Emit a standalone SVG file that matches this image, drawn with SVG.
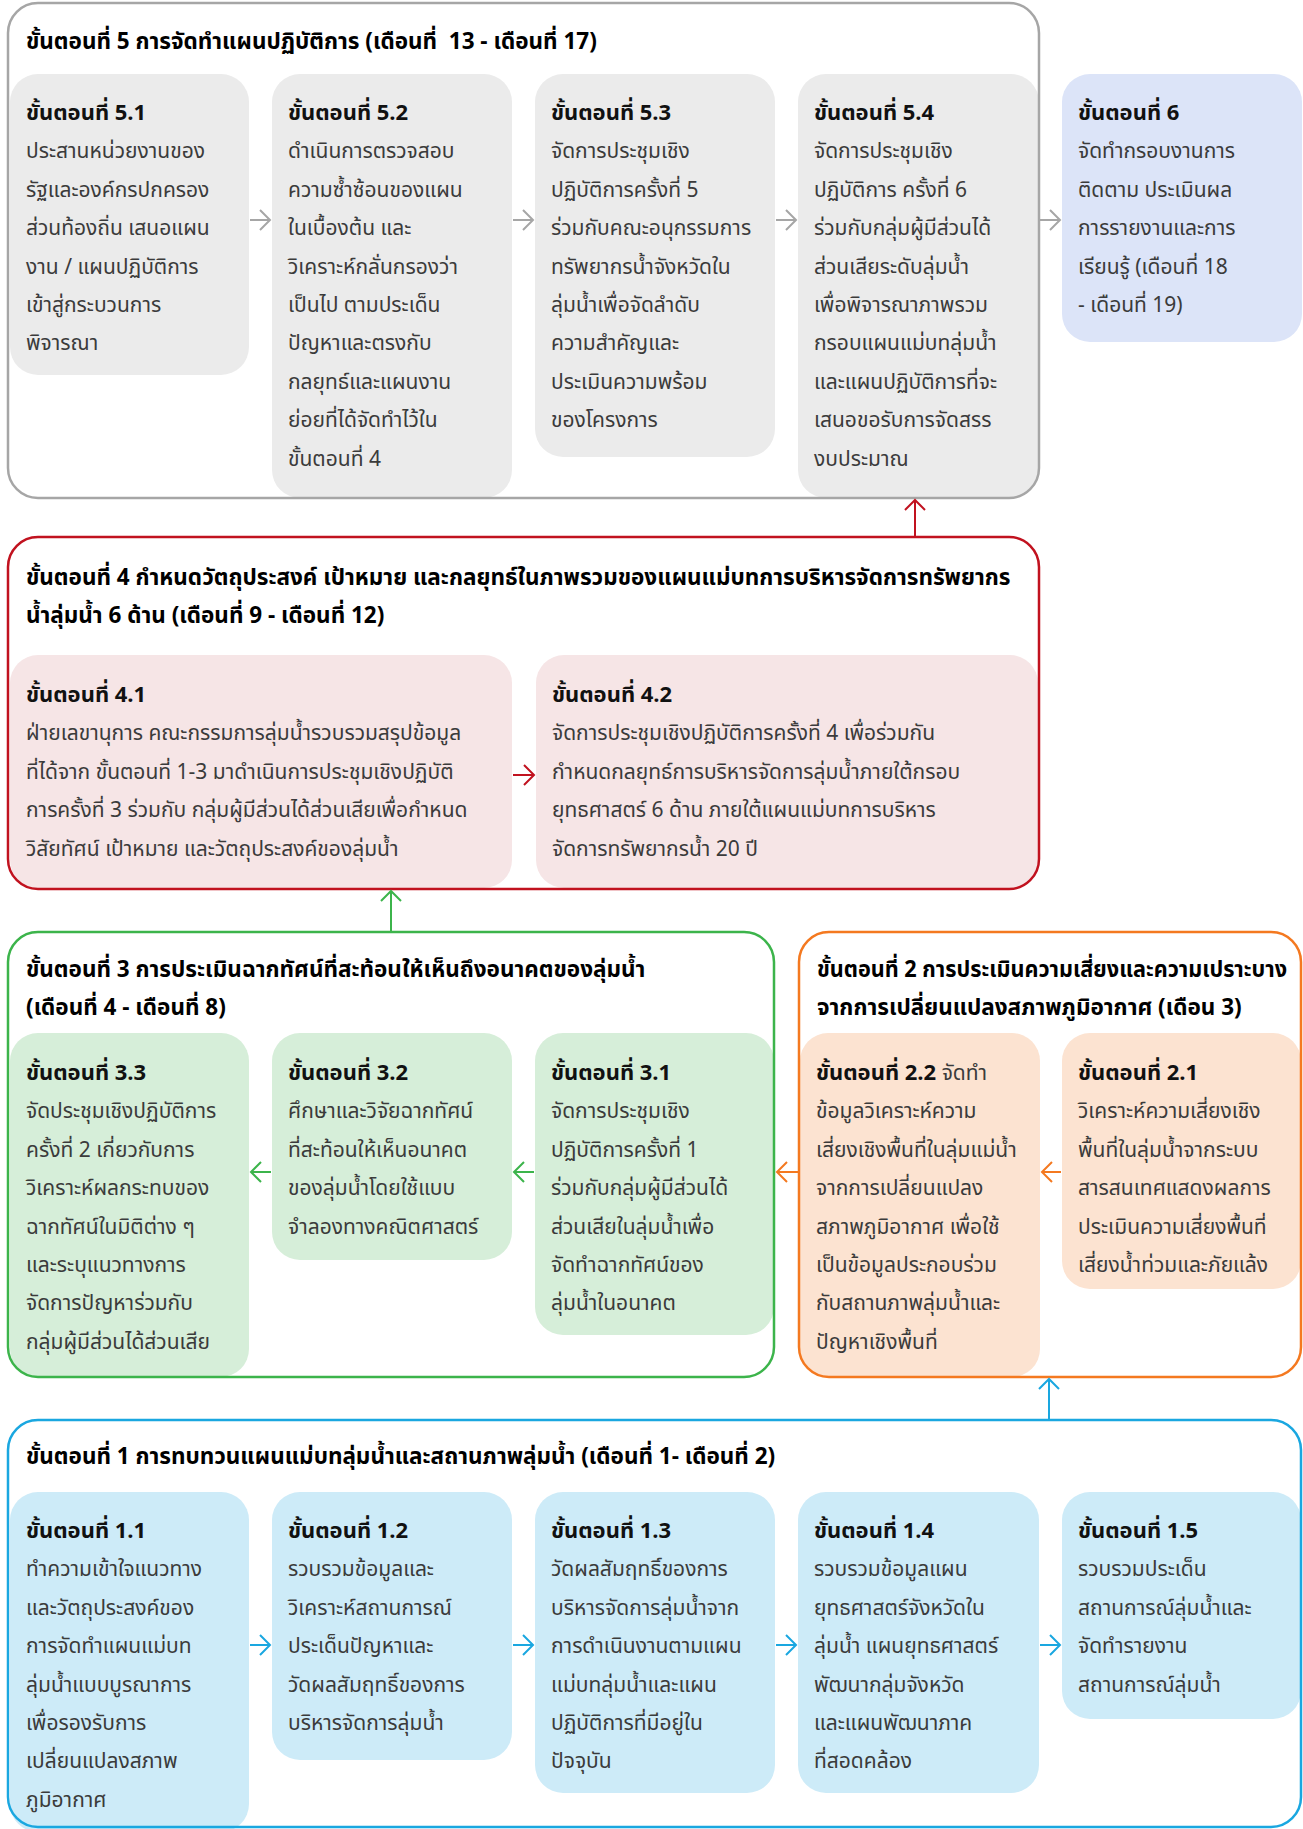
<svg xmlns="http://www.w3.org/2000/svg" width="1303" height="1829" viewBox="0 0 1303 1829">
<style>
text{font-family:"Noto Sans Thai","Noto Sans Thai UI","Noto Sans","DejaVu Sans","Liberation Sans",sans-serif}
.ti{font-size:22.5px;font-weight:bold;fill:#000}
.h{font-size:22px;font-weight:bold;fill:#111}
.b{font-size:21px;fill:#3b3b3b}
.n5{fill:#ebebeb}.n6{fill:#dce4f8}.n4{fill:#f6e5e6}.n3{fill:#d6eed9}.n2{fill:#fce3d1}.n1{fill:#cdebf8}
.frame{fill:none;stroke-width:2.5}
.c{fill:none;stroke-width:2}
</style>
<defs>
<marker id="aG" markerUnits="userSpaceOnUse" markerWidth="14" markerHeight="24" viewBox="0 0 14 24" refX="12" refY="12" orient="auto"><path d="M2,2 L12,12 L2,22" fill="none" stroke="#a6a6a6" stroke-width="2"/></marker>
<marker id="aR" markerUnits="userSpaceOnUse" markerWidth="14" markerHeight="24" viewBox="0 0 14 24" refX="12" refY="12" orient="auto"><path d="M2,2 L12,12 L2,22" fill="none" stroke="#c1121f" stroke-width="2"/></marker>
<marker id="aN" markerUnits="userSpaceOnUse" markerWidth="14" markerHeight="24" viewBox="0 0 14 24" refX="12" refY="12" orient="auto"><path d="M2,2 L12,12 L2,22" fill="none" stroke="#3cb44b" stroke-width="2"/></marker>
<marker id="aO" markerUnits="userSpaceOnUse" markerWidth="14" markerHeight="24" viewBox="0 0 14 24" refX="12" refY="12" orient="auto"><path d="M2,2 L12,12 L2,22" fill="none" stroke="#f47920" stroke-width="2"/></marker>
<marker id="aB" markerUnits="userSpaceOnUse" markerWidth="14" markerHeight="24" viewBox="0 0 14 24" refX="12" refY="12" orient="auto"><path d="M2,2 L12,12 L2,22" fill="none" stroke="#1aa7e0" stroke-width="2"/></marker>
</defs>
<rect width="1303" height="1829" fill="#fff"/>

<!-- Stage 5 nodes -->
<g id="n51"><rect class="n5" x="10" y="74" width="239" height="301" rx="28"/>
<text class="h" x="26" y="120">ขั้นตอนที่ 5.1</text>
<text class="b" x="26" y="158.4">ประสานหน่วยงานของ<tspan x="26" dy="38.4">รัฐและองค์กรปกครอง</tspan><tspan x="26" dy="38.4">ส่วนท้องถิ่น เสนอแผน</tspan><tspan x="26" dy="38.4">งาน / แผนปฏิบัติการ</tspan><tspan x="26" dy="38.4">เข้าสู่กระบวนการ</tspan><tspan x="26" dy="38.4">พิจารณา</tspan></text></g>
<g id="n52"><rect class="n5" x="272" y="74" width="240" height="424" rx="28"/>
<text class="h" x="288" y="120">ขั้นตอนที่ 5.2</text>
<text class="b" x="288" y="158.4">ดำเนินการตรวจสอบ<tspan x="288" dy="38.4">ความซ้ำซ้อนของแผน</tspan><tspan x="288" dy="38.4">ในเบื้องต้น และ</tspan><tspan x="288" dy="38.4">วิเคราะห์กลั่นกรองว่า</tspan><tspan x="288" dy="38.4">เป็นไป ตามประเด็น</tspan><tspan x="288" dy="38.4">ปัญหาและตรงกับ</tspan><tspan x="288" dy="38.4">กลยุทธ์และแผนงาน</tspan><tspan x="288" dy="38.4">ย่อยที่ได้จัดทำไว้ใน</tspan><tspan x="288" dy="38.4">ขั้นตอนที่ 4</tspan></text></g>
<g id="n53"><rect class="n5" x="535" y="74" width="240" height="383" rx="28"/>
<text class="h" x="551" y="120">ขั้นตอนที่ 5.3</text>
<text class="b" x="551" y="158.4">จัดการประชุมเชิง<tspan x="551" dy="38.4">ปฏิบัติการครั้งที่ 5</tspan><tspan x="551" dy="38.4">ร่วมกับคณะอนุกรรมการ</tspan><tspan x="551" dy="38.4">ทรัพยากรน้ำจังหวัดใน</tspan><tspan x="551" dy="38.4">ลุ่มน้ำเพื่อจัดลำดับ</tspan><tspan x="551" dy="38.4">ความสำคัญและ</tspan><tspan x="551" dy="38.4">ประเมินความพร้อม</tspan><tspan x="551" dy="38.4">ของโครงการ</tspan></text></g>
<g id="n54"><rect class="n5" x="798" y="74" width="241" height="424" rx="28"/>
<text class="h" x="814" y="120">ขั้นตอนที่ 5.4</text>
<text class="b" x="814" y="158.4">จัดการประชุมเชิง<tspan x="814" dy="38.4">ปฏิบัติการ ครั้งที่ 6</tspan><tspan x="814" dy="38.4">ร่วมกับกลุ่มผู้มีส่วนได้</tspan><tspan x="814" dy="38.4">ส่วนเสียระดับลุ่มน้ำ</tspan><tspan x="814" dy="38.4">เพื่อพิจารณาภาพรวม</tspan><tspan x="814" dy="38.4">กรอบแผนแม่บทลุ่มน้ำ</tspan><tspan x="814" dy="38.4">และแผนปฏิบัติการที่จะ</tspan><tspan x="814" dy="38.4">เสนอขอรับการจัดสรร</tspan><tspan x="814" dy="38.4">งบประมาณ</tspan></text></g>
<g id="stage5"><rect class="frame" x="8" y="3" width="1031" height="495" rx="30" stroke="#a6a6a6"/>
<text class="ti" x="26" y="49" style="white-space:pre">ขั้นตอนที่ 5 การจัดทำแผนปฏิบัติการ (เดือนที่  13 - เดือนที่ 17)</text></g>
<g id="n6"><rect class="n6" x="1062" y="74" width="240" height="268" rx="28"/>
<text class="h" x="1078" y="120">ขั้นตอนที่ 6</text>
<text class="b" x="1078" y="158.4">จัดทำกรอบงานการ<tspan x="1078" dy="38.4">ติดตาม ประเมินผล</tspan><tspan x="1078" dy="38.4">การรายงานและการ</tspan><tspan x="1078" dy="38.4">เรียนรู้ (เดือนที่ 18</tspan><tspan x="1078" dy="38.4">- เดือนที่ 19)</tspan></text></g>

<!-- Stage 4 -->
<g id="n41"><rect class="n4" x="10" y="655" width="502" height="233" rx="28"/>
<text class="h" x="26" y="702">ขั้นตอนที่ 4.1</text>
<text class="b" x="26" y="740.4">ฝ่ายเลขานุการ คณะกรรมการลุ่มน้ำรวบรวมสรุปข้อมูล<tspan x="26" dy="38.4">ที่ได้จาก ขั้นตอนที่ 1-3 มาดำเนินการประชุมเชิงปฏิบัติ</tspan><tspan x="26" dy="38.4">การครั้งที่ 3 ร่วมกับ กลุ่มผู้มีส่วนได้ส่วนเสียเพื่อกำหนด</tspan><tspan x="26" dy="38.4">วิสัยทัศน์ เป้าหมาย และวัตถุประสงค์ของลุ่มน้ำ</tspan></text></g>
<g id="n42"><rect class="n4" x="536" y="655" width="502" height="233" rx="28"/>
<text class="h" x="552" y="702">ขั้นตอนที่ 4.2</text>
<text class="b" x="552" y="740.4">จัดการประชุมเชิงปฏิบัติการครั้งที่ 4 เพื่อร่วมกัน<tspan x="552" dy="38.4">กำหนดกลยุทธ์การบริหารจัดการลุ่มน้ำภายใต้กรอบ</tspan><tspan x="552" dy="38.4">ยุทธศาสตร์ 6 ด้าน ภายใต้แผนแม่บทการบริหาร</tspan><tspan x="552" dy="38.4">จัดการทรัพยากรน้ำ 20 ปี</tspan></text></g>
<g id="stage4"><rect class="frame" x="8" y="537" width="1031" height="352" rx="30" stroke="#c1121f"/>
<text class="ti" x="26" y="585">ขั้นตอนที่ 4 กำหนดวัตถุประสงค์ เป้าหมาย และกลยุทธ์ในภาพรวมของแผนแม่บทการบริหารจัดการทรัพยากร<tspan x="26" dy="38">น้ำลุ่มน้ำ 6 ด้าน (เดือนที่ 9 - เดือนที่ 12)</tspan></text></g>

<!-- Stage 3 -->
<g id="n33"><rect class="n3" x="10" y="1033" width="239" height="344" rx="28"/>
<text class="h" x="26" y="1080">ขั้นตอนที่ 3.3</text>
<text class="b" x="26" y="1118.4">จัดประชุมเชิงปฏิบัติการ<tspan x="26" dy="38.4">ครั้งที่ 2 เกี่ยวกับการ</tspan><tspan x="26" dy="38.4">วิเคราะห์ผลกระทบของ</tspan><tspan x="26" dy="38.4">ฉากทัศน์ในมิติต่าง ๆ</tspan><tspan x="26" dy="38.4">และระบุแนวทางการ</tspan><tspan x="26" dy="38.4">จัดการปัญหาร่วมกับ</tspan><tspan x="26" dy="38.4">กลุ่มผู้มีส่วนได้ส่วนเสีย</tspan></text></g>
<g id="n32"><rect class="n3" x="272" y="1033" width="240" height="227" rx="28"/>
<text class="h" x="288" y="1080">ขั้นตอนที่ 3.2</text>
<text class="b" x="288" y="1118.4">ศึกษาและวิจัยฉากทัศน์<tspan x="288" dy="38.4">ที่สะท้อนให้เห็นอนาคต</tspan><tspan x="288" dy="38.4">ของลุ่มน้ำโดยใช้แบบ</tspan><tspan x="288" dy="38.4">จำลองทางคณิตศาสตร์</tspan></text></g>
<g id="n31"><rect class="n3" x="535" y="1033" width="239" height="302" rx="28"/>
<text class="h" x="551" y="1080">ขั้นตอนที่ 3.1</text>
<text class="b" x="551" y="1118.4">จัดการประชุมเชิง<tspan x="551" dy="38.4">ปฏิบัติการครั้งที่ 1</tspan><tspan x="551" dy="38.4">ร่วมกับกลุ่มผู้มีส่วนได้</tspan><tspan x="551" dy="38.4">ส่วนเสียในลุ่มน้ำเพื่อ</tspan><tspan x="551" dy="38.4">จัดทำฉากทัศน์ของ</tspan><tspan x="551" dy="38.4">ลุ่มน้ำในอนาคต</tspan></text></g>
<g id="stage3"><rect class="frame" x="8" y="932" width="766" height="445" rx="30" stroke="#3cb44b"/>
<text class="ti" x="26" y="977">ขั้นตอนที่ 3 การประเมินฉากทัศน์ที่สะท้อนให้เห็นถึงอนาคตของลุ่มน้ำ<tspan x="26" dy="38">(เดือนที่ 4 - เดือนที่ 8)</tspan></text></g>

<!-- Stage 2 -->
<g id="n22"><rect class="n2" x="800" y="1033" width="240" height="344" rx="28"/>
<text x="816" y="1080"><tspan class="h">ขั้นตอนที่ 2.2</tspan><tspan class="b"> จัดทำ</tspan></text>
<text class="b" x="816" y="1118.4">ข้อมูลวิเคราะห์ความ<tspan x="816" dy="38.4">เสี่ยงเชิงพื้นที่ในลุ่มแม่น้ำ</tspan><tspan x="816" dy="38.4">จากการเปลี่ยนแปลง</tspan><tspan x="816" dy="38.4">สภาพภูมิอากาศ เพื่อใช้</tspan><tspan x="816" dy="38.4">เป็นข้อมูลประกอบร่วม</tspan><tspan x="816" dy="38.4">กับสถานภาพลุ่มน้ำและ</tspan><tspan x="816" dy="38.4">ปัญหาเชิงพื้นที่</tspan></text></g>
<g id="n21"><rect class="n2" x="1062" y="1033" width="239" height="256" rx="28"/>
<text class="h" x="1078" y="1080">ขั้นตอนที่ 2.1</text>
<text class="b" x="1078" y="1118.4">วิเคราะห์ความเสี่ยงเชิง<tspan x="1078" dy="38.4">พื้นที่ในลุ่มน้ำจากระบบ</tspan><tspan x="1078" dy="38.4">สารสนเทศแสดงผลการ</tspan><tspan x="1078" dy="38.4">ประเมินความเสี่ยงพื้นที่</tspan><tspan x="1078" dy="38.4">เสี่ยงน้ำท่วมและภัยแล้ง</tspan></text></g>
<g id="stage2"><rect class="frame" x="799" y="932" width="502" height="445" rx="30" stroke="#f47920"/>
<text class="ti" x="817" y="977" textLength="470" lengthAdjust="spacingAndGlyphs">ขั้นตอนที่ 2 การประเมินความเสี่ยงและความเปราะบาง</text>
<text class="ti" x="817" y="1015">จากการเปลี่ยนแปลงสภาพภูมิอากาศ (เดือน 3)</text></g>

<!-- Stage 1 -->
<g id="n11"><rect class="n1" x="10" y="1492" width="239" height="340" rx="28"/>
<text class="h" x="26" y="1538">ขั้นตอนที่ 1.1</text>
<text class="b" x="26" y="1576.4">ทำความเข้าใจแนวทาง<tspan x="26" dy="38.4">และวัตถุประสงค์ของ</tspan><tspan x="26" dy="38.4">การจัดทำแผนแม่บท</tspan><tspan x="26" dy="38.4">ลุ่มน้ำแบบบูรณาการ</tspan><tspan x="26" dy="38.4">เพื่อรองรับการ</tspan><tspan x="26" dy="38.4">เปลี่ยนแปลงสภาพ</tspan><tspan x="26" dy="38.4">ภูมิอากาศ</tspan></text></g>
<g id="n12"><rect class="n1" x="272" y="1492" width="240" height="268" rx="28"/>
<text class="h" x="288" y="1538">ขั้นตอนที่ 1.2</text>
<text class="b" x="288" y="1576.4">รวบรวมข้อมูลและ<tspan x="288" dy="38.4">วิเคราะห์สถานการณ์</tspan><tspan x="288" dy="38.4">ประเด็นปัญหาและ</tspan><tspan x="288" dy="38.4">วัดผลสัมฤทธิ์ของการ</tspan><tspan x="288" dy="38.4">บริหารจัดการลุ่มน้ำ</tspan></text></g>
<g id="n13"><rect class="n1" x="535" y="1492" width="240" height="301" rx="28"/>
<text class="h" x="551" y="1538">ขั้นตอนที่ 1.3</text>
<text class="b" x="551" y="1576.4">วัดผลสัมฤทธิ์ของการ<tspan x="551" dy="38.4">บริหารจัดการลุ่มน้ำจาก</tspan><tspan x="551" dy="38.4">การดำเนินงานตามแผน</tspan><tspan x="551" dy="38.4">แม่บทลุ่มน้ำและแผน</tspan><tspan x="551" dy="38.4">ปฏิบัติการที่มีอยู่ใน</tspan><tspan x="551" dy="38.4">ปัจจุบัน</tspan></text></g>
<g id="n14"><rect class="n1" x="798" y="1492" width="241" height="301" rx="28"/>
<text class="h" x="814" y="1538">ขั้นตอนที่ 1.4</text>
<text class="b" x="814" y="1576.4">รวบรวมข้อมูลแผน<tspan x="814" dy="38.4">ยุทธศาสตร์จังหวัดใน</tspan><tspan x="814" dy="38.4">ลุ่มน้ำ แผนยุทธศาสตร์</tspan><tspan x="814" dy="38.4">พัฒนากลุ่มจังหวัด</tspan><tspan x="814" dy="38.4">และแผนพัฒนาภาค</tspan><tspan x="814" dy="38.4">ที่สอดคล้อง</tspan></text></g>
<g id="n15"><rect class="n1" x="1062" y="1492" width="239" height="227" rx="28"/>
<text class="h" x="1078" y="1538">ขั้นตอนที่ 1.5</text>
<text class="b" x="1078" y="1576.4">รวบรวมประเด็น<tspan x="1078" dy="38.4">สถานการณ์ลุ่มน้ำและ</tspan><tspan x="1078" dy="38.4">จัดทำรายงาน</tspan><tspan x="1078" dy="38.4">สถานการณ์ลุ่มน้ำ</tspan></text></g>
<g id="stage1"><rect class="frame" x="8" y="1420" width="1293" height="407" rx="30" stroke="#1aa7e0"/>
<text class="ti" x="26" y="1464">ขั้นตอนที่ 1 การทบทวนแผนแม่บทลุ่มน้ำและสถานภาพลุ่มน้ำ (เดือนที่ 1- เดือนที่ 2)</text></g>

<!-- Connectors -->
<g id="connectors">
<path class="c" stroke="#a6a6a6" marker-end="url(#aG)" d="M250,220 H270"/>
<path class="c" stroke="#a6a6a6" marker-end="url(#aG)" d="M513,220 H533"/>
<path class="c" stroke="#a6a6a6" marker-end="url(#aG)" d="M776,220 H796"/>
<path class="c" stroke="#a6a6a6" marker-end="url(#aG)" d="M1040,220 H1060"/>
<path class="c" stroke="#c1121f" marker-end="url(#aR)" d="M513,775 H534"/>
<path class="c" stroke="#c1121f" marker-end="url(#aR)" d="M915,537 V500"/>
<path class="c" stroke="#3cb44b" marker-end="url(#aN)" d="M534,1172 H514"/>
<path class="c" stroke="#3cb44b" marker-end="url(#aN)" d="M271,1172 H251"/>
<path class="c" stroke="#3cb44b" marker-end="url(#aN)" d="M391,932 V891"/>
<path class="c" stroke="#f47920" marker-end="url(#aO)" d="M1061,1172 H1042"/>
<path class="c" stroke="#f47920" marker-end="url(#aO)" d="M798,1172 H777"/>
<path class="c" stroke="#1aa7e0" marker-end="url(#aB)" d="M250,1645 H270"/>
<path class="c" stroke="#1aa7e0" marker-end="url(#aB)" d="M513,1645 H533"/>
<path class="c" stroke="#1aa7e0" marker-end="url(#aB)" d="M776,1645 H796"/>
<path class="c" stroke="#1aa7e0" marker-end="url(#aB)" d="M1040,1645 H1060"/>
<path class="c" stroke="#1aa7e0" marker-end="url(#aB)" d="M1049,1420 V1379"/>
</g>
</svg>
